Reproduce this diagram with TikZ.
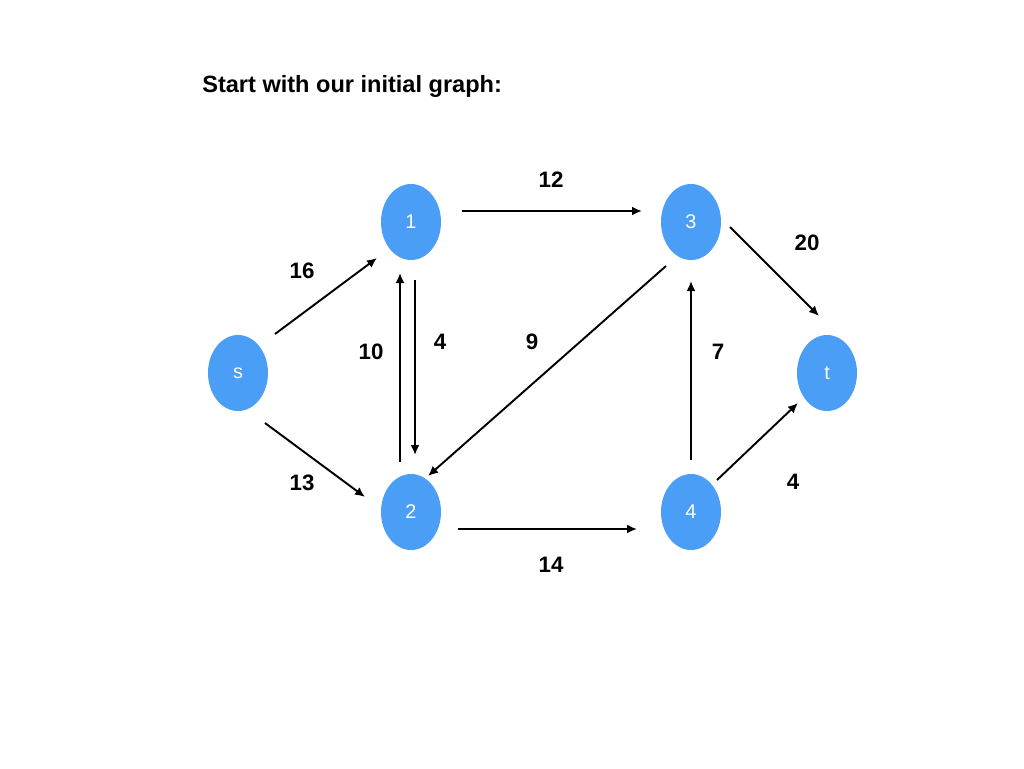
\documentclass[tikz,border=0pt]{standalone}
\usepackage{fontspec}
\setmainfont{Liberation Sans}
\usetikzlibrary{shapes.geometric, arrows.meta}
\definecolor{nodeblue}{RGB}{74,158,245}
\tikzstyle{vertex} = [ellipse, minimum width=1.2cm, minimum height=1.52cm, inner sep=0pt, fill=nodeblue, text=white, font=\fontsize{11.3}{13}\selectfont]
\tikzstyle{weight} = [inner sep=0pt, font=\bfseries\fontsize{12.7}{15}\selectfont]
\tikzstyle{arrow} = [line width=1.1pt, -{Latex[length=0.2cm, width=0.18cm]}]

\begin{document}
\begin{tikzpicture}[x=0.02cm, y=-0.02cm]
	\useasboundingbox (0,0) rectangle (1024,768);
	\node (title) [anchor=base west, inner sep=0pt, font=\bfseries\fontsize{13.4}{16}\selectfont] at (202,92) {Start with our initial graph:};

	\node (s) [vertex] at (238,373) {s};
	\node (1) [vertex] at (411,222) {1};
	\node (2) [vertex] at (411,512) {2};
	\node (3) [vertex] at (691,222) {3};
	\node (4) [vertex] at (691,512) {4};
	\node (t) [vertex] at (827,373) {t};

	\node (w16) [weight] at (302,271) {16};
	\node (w13) [weight] at (302,483) {13};
	\node (w12) [weight] at (551,180) {12};
	\node (w10) [weight] at (371,352) {10};
	\node (w4a) [weight] at (440,342) {4};
	\node (w9) [weight] at (532,342) {9};
	\node (w7) [weight] at (718,352) {7};
	\node (w20) [weight] at (807,243) {20};
	\node (w4b) [weight] at (793,482) {4};
	\node (w14) [weight] at (551,565) {14};

	\draw [arrow] ([shift={(37,-39)}]s.center) -- ([shift={(-34,36)}]1.center);
	\draw [arrow] ([shift={(27,50)}]s.center) -- ([shift={(-46,-15)}]2.center);
	\draw [arrow] ([shift={(51,-11)}]1.center) -- ([shift={(-49,-11)}]3.center);
	\draw [arrow] ([shift={(4,58)}]1.center) -- ([shift={(4,-57)}]2.center);
	\draw [arrow] ([shift={(-11,-50)}]2.center) -- ([shift={(-11,51)}]1.center);
	\draw [arrow] ([shift={(-25,44)}]3.center) -- ([shift={(17,-36)}]2.center);
	\draw [arrow] ([shift={(39,5)}]3.center) -- ([shift={(-8,-57)}]t.center);
	\draw [arrow] ([shift={(0,-52)}]4.center) -- ([shift={(0,59)}]3.center);
	\draw [arrow] ([shift={(26,-32)}]4.center) -- ([shift={(-29,30)}]t.center);
	\draw [arrow] ([shift={(47,17)}]2.center) -- ([shift={(-54,17)}]4.center);
\end{tikzpicture}
\end{document}
